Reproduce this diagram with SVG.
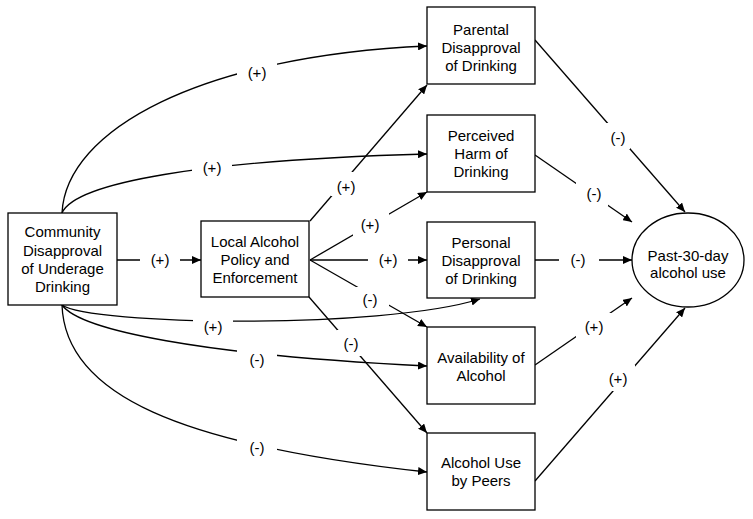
<svg xmlns="http://www.w3.org/2000/svg" width="753" height="519" viewBox="0 0 753 519">
<defs>
<style>
.box{fill:#fff;stroke:#000;stroke-width:1.3}
.t{font-family:"Liberation Sans",Arial,sans-serif;font-size:15px;fill:#000;text-anchor:middle}
.c{fill:none;stroke:#000;stroke-width:1.3}
.bg{fill:#fff;stroke:none}
</style>
<marker id="ah" markerUnits="userSpaceOnUse" markerWidth="10" markerHeight="8" refX="9" refY="4" orient="auto">
<path d="M0,0 L9,4 L0,8 z" fill="#000"/>
</marker>
</defs>
<rect width="753" height="519" fill="#fff"/>
<g id="connectors">
<path class="c" d="M62,213 C66,130 200,56 427,46" marker-end="url(#ah)"/>
<path class="c" d="M62,213 C75,183 200,160 427,154" marker-end="url(#ah)"/>
<path class="c" d="M62,305 C90,325 380,330 480,299" marker-end="url(#ah)"/>
<path class="c" d="M62,305 C80,330 200,355 427,366" marker-end="url(#ah)"/>
<path class="c" d="M62,305 C65,395 180,445 427,472" marker-end="url(#ah)"/>
<path class="c" d="M117,260 L201,260" marker-end="url(#ah)"/>
<path class="c" d="M310,221 L427,85" marker-end="url(#ah)"/>
<path class="c" d="M310,260 L427,192" marker-end="url(#ah)"/>
<path class="c" d="M310,260 L427,260" marker-end="url(#ah)"/>
<path class="c" d="M310,260 L427,327" marker-end="url(#ah)"/>
<path class="c" d="M309,297 L427,433" marker-end="url(#ah)"/>
<path class="c" d="M535,40 L685,212" marker-end="url(#ah)"/>
<path class="c" d="M535,155 L632,222" marker-end="url(#ah)"/>
<path class="c" d="M535,260 L632,260" marker-end="url(#ah)"/>
<path class="c" d="M535,365 L632,298" marker-end="url(#ah)"/>
<path class="c" d="M535,481 L685,308" marker-end="url(#ah)"/>
<g id="labels">
<rect class="bg" x="237" y="62" width="40" height="22"/><text class="t" x="257" y="78">(+)</text>
<rect class="bg" x="192" y="157" width="40" height="22"/><text class="t" x="212" y="173">(+)</text>
<rect class="bg" x="193" y="316" width="40" height="22"/><text class="t" x="213" y="332">(+)</text>
<rect class="bg" x="237" y="349" width="40" height="22"/><text class="t" x="257" y="365">(-)</text>
<rect class="bg" x="237" y="437" width="40" height="22"/><text class="t" x="257" y="453">(-)</text>
<rect class="bg" x="140" y="250" width="40" height="20"/><text class="t" x="160" y="265">(+)</text>
<rect class="bg" x="331" y="172" width="30" height="24"/><text class="t" x="346" y="192">(+)</text>
<rect class="bg" x="353" y="213" width="36" height="24"/><text class="t" x="370" y="230">(+)</text>
<rect class="bg" x="368" y="250" width="40" height="20"/><text class="t" x="388" y="265">(+)</text>
<rect class="bg" x="353" y="287" width="36" height="24"/><text class="t" x="370" y="305">(-)</text>
<rect class="bg" x="337" y="330" width="28" height="26"/><text class="t" x="351" y="349">(-)</text>
<rect class="bg" x="606" y="123" width="24" height="26"/><text class="t" x="618" y="143">(-)</text>
<rect class="bg" x="576" y="182" width="32" height="24"/><text class="t" x="594" y="199">(-)</text>
<rect class="bg" x="559" y="250" width="40" height="20"/><text class="t" x="578" y="265">(-)</text>
<rect class="bg" x="576" y="313" width="36" height="26"/><text class="t" x="594" y="332">(+)</text>
<rect class="bg" x="603" y="365" width="32" height="26"/><text class="t" x="618" y="384">(+)</text>
</g>
</g>
<g id="community">
<rect class="box" x="8" y="213" width="109" height="92"/>
<text class="t" x="62.5" y="237">Community</text>
<text class="t" x="62.5" y="256">Disapproval</text>
<text class="t" x="62.5" y="274">of Underage</text>
<text class="t" x="62.5" y="292">Drinking</text>
</g>
<g id="local">
<rect class="box" x="201" y="221" width="108" height="76"/>
<text class="t" x="255" y="247">Local Alcohol</text>
<text class="t" x="255" y="265">Policy and</text>
<text class="t" x="255" y="283">Enforcement</text>
</g>
<g id="parental">
<rect class="box" x="427" y="7" width="108" height="77"/>
<text class="t" x="481" y="35">Parental</text>
<text class="t" x="481" y="53">Disapproval</text>
<text class="t" x="481" y="71">of Drinking</text>
</g>
<g id="perceived">
<rect class="box" x="427" y="115" width="108" height="77"/>
<text class="t" x="481" y="141">Perceived</text>
<text class="t" x="481" y="159">Harm of</text>
<text class="t" x="481" y="177">Drinking</text>
</g>
<g id="personal">
<rect class="box" x="427" y="222" width="108" height="76"/>
<text class="t" x="481" y="248">Personal</text>
<text class="t" x="481" y="266">Disapproval</text>
<text class="t" x="481" y="284">of Drinking</text>
</g>
<g id="availability">
<rect class="box" x="427" y="327" width="108" height="77"/>
<text class="t" x="481" y="363">Availability of</text>
<text class="t" x="481" y="381">Alcohol</text>
</g>
<g id="peers">
<rect class="box" x="427" y="433" width="108" height="77"/>
<text class="t" x="481" y="468">Alcohol Use</text>
<text class="t" x="481" y="486">by Peers</text>
</g>
<g id="outcome">
<ellipse class="box" cx="688" cy="260" rx="56" ry="47"/>
<text class="t" x="688" y="261">Past-30-day</text>
<text class="t" x="688" y="278">alcohol use</text>
</g>
</svg>
